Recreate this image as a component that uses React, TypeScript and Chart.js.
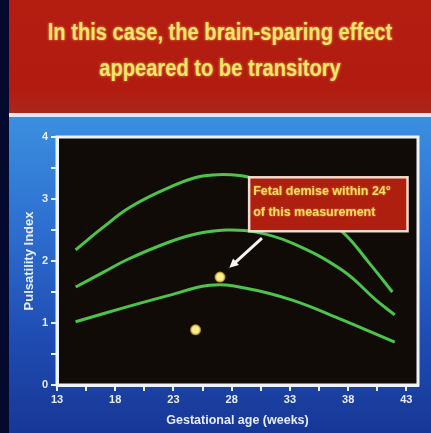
import React, { useEffect, useRef } from "react";
import { Chart, registerables } from "chart.js";

Chart.register(...registerables);

const titleLines = ["In this case, the brain-sparing effect", "appeared to be transitory"];
const xTitle = "Gestational age (weeks)";
const yTitle = "Pulsatility Index";
const xTickValues = [13, 15.5, 18, 20.5, 23, 25.5, 28, 30.5, 33, 35.5, 38, 40.5, 43];
const yTickValues = [0, 0.5, 1, 1.5, 2, 2.5, 3, 3.5, 4];

const upperX = [14.6, 17, 19.3, 22.7, 25.5, 28.7, 31, 34, 37.5, 39.8, 41.8];
const upperY = [2.18, 2.55, 2.87, 3.19, 3.37, 3.38, 3.25, 2.93, 2.47, 1.97, 1.5];
const middleX = [14.6, 17, 19, 22.7, 25, 27.5, 30, 33.2, 37.5, 40.4, 42];
const middleY = [1.58, 1.82, 2.02, 2.31, 2.44, 2.5, 2.47, 2.29, 1.85, 1.37, 1.13];
const lowerX = [14.6, 19, 22.7, 26.1, 29, 33.2, 37.5, 42];
const lowerY = [1.02, 1.26, 1.45, 1.61, 1.57, 1.37, 1.05, 0.69];
const patientX = [27, 24.9];
const patientY = [1.74, 0.89];

const noteLines = ["Fetal demise within 24°", "of this measurement"];
const noteBox = { x0: 29.5, x1: 43.1, y0: 3.35, y1: 2.48 };
const arrowFrom = { x: 30.6, y: 2.37 };
const arrowTo = { x: 27.8, y: 1.89 };

const zip = (xs: number[], ys: number[]) => xs.map((x, i) => ({ x, y: ys[i] }));

const frameColor = "#eef2fb";
const green = "#4cc44a";

const plotPlugin = {
  id: "plotDecor",
  beforeDraw(chart: any) {
    const { ctx, chartArea: a } = chart;
    ctx.save();
    ctx.fillStyle = "#110b07";
    ctx.fillRect(a.left, a.top, a.right - a.left, a.bottom - a.top);
    ctx.restore();
  },
  afterDatasetsDraw(chart: any) {
    const { ctx, chartArea: a, scales } = chart;
    const xs = scales.x, ys = scales.y;
    ctx.save();
    ctx.strokeStyle = frameColor;
    ctx.lineWidth = 3;
    ctx.strokeRect(a.left, a.top, a.right - a.left, a.bottom - a.top);
    const bx0 = xs.getPixelForValue(noteBox.x0);
    const bx1 = xs.getPixelForValue(noteBox.x1);
    const by0 = ys.getPixelForValue(noteBox.y0);
    const by1 = ys.getPixelForValue(noteBox.y1);
    ctx.fillStyle = "#ae1f10";
    ctx.fillRect(bx0, by0, bx1 - bx0, by1 - by0);
    ctx.strokeStyle = "#f3dccd";
    ctx.lineWidth = 2.5;
    ctx.strokeRect(bx0, by0, bx1 - bx0, by1 - by0);
    ctx.fillStyle = "#f2dc5c";
    ctx.font = "bold 12.5px 'Liberation Sans', Arial, sans-serif";
    ctx.textAlign = "left";
    ctx.textBaseline = "middle";
    ctx.shadowColor = "rgba(255,230,120,0.6)";
    ctx.shadowBlur = 2;
    noteLines.forEach((t, i) => {
      ctx.fillText(t, bx0 + 4, by0 + 14 + i * 21);
    });
    ctx.shadowBlur = 0;
    const ax0 = xs.getPixelForValue(arrowFrom.x);
    const ay0 = ys.getPixelForValue(arrowFrom.y);
    const ax1 = xs.getPixelForValue(arrowTo.x);
    const ay1 = ys.getPixelForValue(arrowTo.y);
    const ang = Math.atan2(ay1 - ay0, ax1 - ax0);
    const head = 10;
    ctx.strokeStyle = "#f4f4f4";
    ctx.fillStyle = "#f4f4f4";
    ctx.lineWidth = 3;
    ctx.beginPath();
    ctx.moveTo(ax0, ay0);
    ctx.lineTo(ax1 - head * 0.7 * Math.cos(ang), ay1 - head * 0.7 * Math.sin(ang));
    ctx.stroke();
    ctx.beginPath();
    ctx.moveTo(ax1, ay1);
    ctx.lineTo(ax1 - head * Math.cos(ang - 0.45), ay1 - head * Math.sin(ang - 0.45));
    ctx.lineTo(ax1 - head * Math.cos(ang + 0.45), ay1 - head * Math.sin(ang + 0.45));
    ctx.closePath();
    ctx.fill();
    ctx.restore();
  },
};

export default function App() {
  const ref = useRef<HTMLCanvasElement | null>(null);
  useEffect(() => {
    if (!ref.current) return;
    const lineDs = (label: string, xs: number[], ys: number[]) => ({
      label,
      data: zip(xs, ys),
      showLine: true,
      borderColor: green,
      borderWidth: 3,
      pointRadius: 0,
      tension: 0.4,
      fill: false,
    });
    const tickFont = { family: "'Liberation Sans', Arial, sans-serif", weight: "bold" as const, size: 11 };
    const chart = new Chart(ref.current, {
      type: "scatter",
      data: {
        datasets: [
          lineDs("upper", upperX, upperY),
          lineDs("middle", middleX, middleY),
          lineDs("lower", lowerX, lowerY),
          {
            label: "patient",
            data: zip(patientX, patientY),
            showLine: false,
            pointStyle: "circle",
            pointRadius: 4.5,
            backgroundColor: "#f8ee94",
            borderColor: "rgba(236,196,60,0.7)",
            borderWidth: 2,
          } as any,
        ],
      },
      options: {
        responsive: false,
        animation: false,
        layout: { padding: { left: 0, top: 137, right: 13, bottom: 0 } },
        plugins: { legend: { display: false }, tooltip: { enabled: false } },
        scales: {
          x: {
            type: "linear",
            min: 13,
            max: 44,
            afterBuildTicks: (s: any) => {
              s.ticks = xTickValues.map((v) => ({ value: v }));
            },
            afterFit: (s: any) => {
              s.height = 48;
            },
            grid: { drawOnChartArea: false, color: frameColor, lineWidth: 2, tickLength: 6 },
            border: { color: frameColor, width: 3 },
            ticks: {
              color: "#e6ecf8",
              font: tickFont,
              padding: 2,
              maxRotation: 0,
              autoSkip: false,
              callback: (v: any) => (Number.isInteger(v) ? String(v) : ""),
            },
            title: {
              display: true,
              text: xTitle,
              color: "#e6ecf8",
              font: { family: "'Liberation Sans', Arial, sans-serif", weight: "bold", size: 12.5 },
              padding: { top: 0, bottom: 5 },
            },
          },
          y: {
            type: "linear",
            min: 0,
            max: 4,
            afterBuildTicks: (s: any) => {
              s.ticks = yTickValues.map((v) => ({ value: v }));
            },
            afterFit: (s: any) => {
              s.width = 57;
            },
            grid: { drawOnChartArea: false, color: frameColor, lineWidth: 2, tickLength: 6 },
            border: { color: frameColor, width: 3 },
            ticks: {
              color: "#e6ecf8",
              font: tickFont,
              padding: 3,
              autoSkip: false,
              callback: (v: any) => (Number.isInteger(v) ? String(v) : ""),
            },
            title: {
              display: true,
              text: yTitle,
              color: "#e6ecf8",
              font: { family: "'Liberation Sans', Arial, sans-serif", weight: "bold", size: 13 },
              padding: { top: 22, bottom: 0 },
            },
          },
        },
      },
      plugins: [plotPlugin],
    });
    return () => chart.destroy();
  }, []);

  return (
    <div
      style={{
        position: "fixed",
        left: 0,
        top: 0,
        width: 431,
        height: 433,
        overflow: "hidden",
        background: "#040a2e",
      }}
    >
      <div
        style={{
          position: "absolute",
          left: 9,
          top: 117,
          width: 422,
          height: 316,
          background: "linear-gradient(180deg, #3b8fdf 0%, #2d6fd0 35%, #1f4cb2 70%, #173796 100%)",
        }}
      />
      <div
        style={{
          position: "absolute",
          left: 9,
          top: 0,
          width: 422,
          height: 113,
          background: "linear-gradient(180deg, #b41d10 0%, #b21c10 80%, #a8281c 100%)",
        }}
      />
      <div
        style={{
          position: "absolute",
          left: 9,
          top: 113,
          width: 422,
          height: 4,
          background: "#e2e6f6",
        }}
      />
      <div
        style={{
          position: "absolute",
          left: 9,
          top: 14,
          width: 422,
          textAlign: "center",
          fontFamily: "'Liberation Sans', Arial, sans-serif",
          fontWeight: "bold",
          fontSize: 23,
          lineHeight: "36px",
          color: "#f3e46c",
          textShadow: "0 0 3px rgba(255,220,100,0.7)",
          transform: "scaleX(0.875)",
          transformOrigin: "center",
          whiteSpace: "nowrap",
        }}
      >
        {titleLines.map((t, i) => (
          <div key={i}>{t}</div>
        ))}
      </div>
      <canvas ref={ref} width={431} height={433} style={{ position: "absolute", left: 0, top: 0 }} />
    </div>
  );
}
